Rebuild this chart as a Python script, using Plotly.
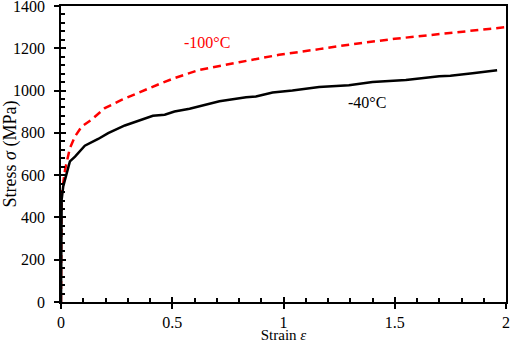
import plotly.graph_objects as go

strain_m40 = [0.0, 0.003, 0.01, 0.04, 0.063, 0.107, 0.167, 0.212, 0.287, 0.361, 0.413, 0.466,
              0.51, 0.578, 0.712, 0.832, 0.876, 0.951, 1.04, 1.16, 1.294, 1.40, 1.45, 1.55,
              1.70, 1.75, 1.85, 1.96]
stress_m40 = [0, 484, 547, 665, 688, 739, 771, 799, 835, 862, 881, 886,
              901, 914, 949, 968, 972, 991, 1000, 1017, 1025, 1040, 1043, 1050,
              1068, 1070, 1082, 1096]

strain_m100 = [0.0, 0.002, 0.018, 0.04, 0.063, 0.093, 0.137, 0.197, 0.272, 0.361, 0.451,
               0.51, 0.622, 0.80, 0.98, 1.16, 1.30, 1.50, 1.75, 2.0]
stress_m100 = [0, 500, 625, 728, 783, 830, 862, 917, 956, 996, 1035,
               1059, 1098, 1134, 1169, 1196, 1218, 1245, 1272, 1300]

x_ticks = [0, 0.5, 1, 1.5, 2]
x_tick_text = ["0", "0.5", "1", "1.5", "2"]
y_ticks = [0, 200, 400, 600, 800, 1000, 1200, 1400]

label_m100 = "-100°C"
label_m40 = "-40°C"
label_pos_m100 = (0.656, 1228)
label_pos_m40 = (1.375, 942)

FONT = "Liberation Serif, Times New Roman, serif"

fig = go.Figure()
fig.add_trace(go.Scatter(x=strain_m100, y=stress_m100, mode="lines",
                         line=dict(color="#ff0000", width=2.5, dash="8px,5px"),
                         showlegend=False))
fig.add_trace(go.Scatter(x=strain_m40, y=stress_m40, mode="lines",
                         line=dict(color="#000000", width=2.5),
                         showlegend=False))
# helper invisible trace for overlay axes (ticks inside)
fig.add_trace(go.Scatter(x=[None], y=[None], xaxis="x2", yaxis="y2",
                         showlegend=False, hoverinfo="skip"))

fig.add_annotation(x=label_pos_m100[0], y=label_pos_m100[1], text=label_m100,
                   showarrow=False, font=dict(family=FONT, size=16, color="#ff0000"))
fig.add_annotation(x=label_pos_m40[0], y=label_pos_m40[1], text=label_m40,
                   showarrow=False, font=dict(family=FONT, size=16, color="#000000"))

common_x = dict(range=[0, 2], showgrid=False, zeroline=False, automargin=False)
common_y = dict(range=[0, 1400], showgrid=False, zeroline=False, automargin=False)

fig.update_layout(
    width=512, height=343,
    margin=dict(l=61, r=6, t=6, b=41, autoexpand=False),
    plot_bgcolor="white", paper_bgcolor="white",
    font=dict(family=FONT, size=16, color="black"),
    xaxis=dict(**common_x, tickvals=x_ticks, ticktext=x_tick_text,
               ticks="outside", ticklen=5, tickwidth=1.5, tickcolor="black",
               showline=True, linecolor="black", linewidth=1.5, mirror=True,
               tickfont=dict(family=FONT, size=16), ticklabeloverflow="allow",
               title=dict(text="Strain <i>ε</i>", font=dict(family=FONT, size=15), standoff=2)),
    yaxis=dict(**common_y, tickvals=y_ticks,
               ticks="outside", ticklen=5, tickwidth=1.5, tickcolor="black",
               showline=True, linecolor="black", linewidth=1.5, mirror=True,
               tickfont=dict(family=FONT, size=16), ticklabeloverflow="allow",
               ticklabelstandoff=6,
               title=dict(text="Stress <i>σ</i> (MPa)", font=dict(family=FONT, size=18), standoff=4)),
    xaxis2=dict(**common_x, overlaying="x", anchor="y2", side="bottom",
                tickvals=x_ticks, showticklabels=False,
                ticks="inside", ticklen=5, tickwidth=1.5, tickcolor="black",
                minor=dict(ticks="inside", ticklen=4, dtick=0.1, tickwidth=1.5,
                           tickcolor="black", showgrid=False),
                showline=False),
    yaxis2=dict(**common_y, overlaying="y", anchor="x2", side="left",
                tickvals=y_ticks, showticklabels=False,
                ticks="inside", ticklen=5, tickwidth=1.5, tickcolor="black",
                minor=dict(ticks="inside", ticklen=4, dtick=40, tickwidth=1.5,
                           tickcolor="black", showgrid=False),
                showline=False),
)

fig.write_html("out.html", config={"displayModeBar": False},
               post_script="document.body.style.margin='0';document.body.style.padding='0';")
